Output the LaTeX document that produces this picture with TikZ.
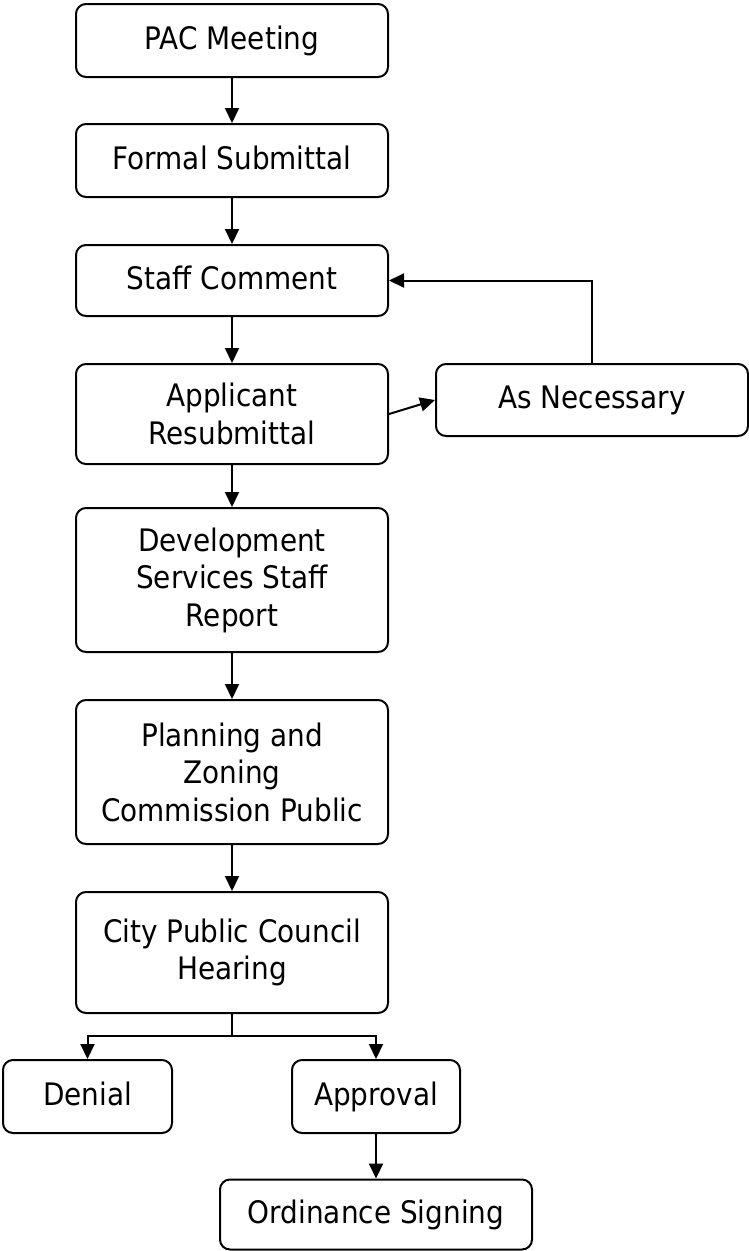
\documentclass[tikz,border=0pt]{standalone}
\usepackage{fontspec}
\setmainfont{DejaVu Sans}[FakeStretch=0.9]
\usetikzlibrary{arrows.meta}
\begin{document}
\begin{tikzpicture}[x=1pt,y=1pt,
  box/.style={draw, line width=2pt, rounded corners=10pt, align=center,
    inner sep=0pt, minimum width=312pt,
    font=\fontsize{31}{37.5}\selectfont},
  oneline/.style={text height=23.5pt, text depth=6pt},
  arr/.style={line width=2pt, -{Triangle[length=15pt,width=14pt]}},
  ln/.style={line width=2pt}]
\useasboundingbox (0,0) rectangle (749,-1251);
\node[box, oneline, minimum height=73pt] (pac) at (232,-40.5) {PAC Meeting};
\node[box, oneline, minimum height=73pt] (formal) at (232,-160.5) {Formal Submittal};
\node[box, oneline, minimum height=71pt] (staff) at (232,-280.5) {Staff Comment};
\node[box, minimum height=100pt] (app) at (232,-414) {Applicant\\Resubmittal};
\node[box, oneline, minimum height=72pt] (asn) at (592,-400) {As Necessary};
\node[box, minimum height=144pt] (dev) at (232,-580) {Development\\Services Staff\\Report};
\node[box, minimum height=144pt] (plan) at (232,-772) {Planning and\\Zoning\\Commission Public};
\node[box, minimum height=121pt] (city) at (232,-952.5) {City Public Council\\Hearing};
\node[box, oneline, minimum height=73pt, minimum width=169pt] (denial) at (87.5,-1096.5) {Denial};
\node[box, oneline, minimum height=73pt, minimum width=168pt] (approval) at (376,-1096.5) {Approval};
\node[box, oneline, minimum height=70pt] (ord) at (376,-1214.5) {Ordinance Signing};
\coordinate (br) at (232,-1036);
\draw[arr] (pac) -- (formal);
\draw[arr] (formal) -- (staff);
\draw[arr] (staff) -- (app);
\draw[arr] (app.east) -- (asn.west);
\draw[arr] (asn.north) |- (staff.east);
\draw[arr] (app) -- (dev);
\draw[arr] (dev) -- (plan);
\draw[arr] (plan) -- (city);
\draw[ln] (city.south) -- (br);
\draw[arr] (br) -| (denial.north);
\draw[arr] (br) -| (approval.north);
\draw[arr] (approval) -- (ord);
\end{tikzpicture}
\end{document}
